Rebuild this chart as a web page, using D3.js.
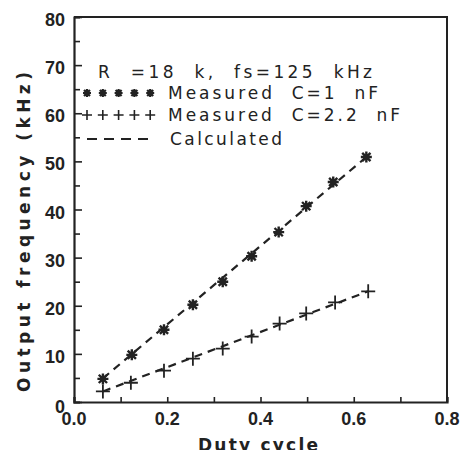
<!DOCTYPE html>
<html>
<head>
<meta charset="utf-8">
<script src="https://d3js.org/d3.v7.min.js"></script>
<style>
  html, body { margin: 0; padding: 0; background: #fff; }
  svg { display: block; }
  text { font-family: "Liberation Sans", Arial, sans-serif; fill: #222; }
  .wide { font-family: "DejaVu Sans", "Liberation Sans", sans-serif; }
</style>
</head>
<body>
<svg id="chart" width="466" height="450"></svg>
<script>
// Measured output frequency vs duty cycle (R = 18 k, fs = 125 kHz)
const dutyC1 = [0.062, 0.124, 0.193, 0.255, 0.319, 0.381, 0.439, 0.498, 0.556, 0.627];
const freqC1 = [4.8, 9.8, 15.0, 20.2, 25.0, 30.3, 35.3, 40.7, 45.7, 50.9];

const dutyC22 = [0.062, 0.122, 0.193, 0.255, 0.319, 0.381, 0.441, 0.498, 0.560, 0.631];
const freqC22 = [2.2, 4.0, 6.5, 9.0, 11.1, 13.6, 16.3, 18.4, 20.7, 23.0];

// Calculated curves (end points of the straight calculated lines)
const calcDuty = [0.062, 0.627];
const calcC1 = [4.9, 50.9];
const calcDuty22 = [0.062, 0.631];
const calcC22 = [2.2, 23.0];

const xTickLabels = ["0.0", "0.2", "0.4", "0.6", "0.8"];
const yTickLabels = ["0", "10", "20", "30", "40", "50", "60", "70", "80"];

const legendLines = ["R  =18  k,  fs=125  kHz", "Measured  C=1  nF", "Measured  C=2.2  nF", "Calculated"];

const svg = d3.select("#chart");
const ink = "#222";

const x = d3.scaleLinear().domain([0, 0.8]).range([74, 447]);
const y = d3.scaleLinear().domain([0, 80]).range([402, 17]);

// frame: top and right edges
svg.append("path")
  .attr("d", `M${x(0)},${y(80)}H${x(0.8)}V${y(0)}`)
  .attr("fill", "none").attr("stroke", ink).attr("stroke-width", 2);

// x axis with inward ticks every 0.1
const xAxis = d3.axisBottom(x)
  .tickValues(d3.range(0, 0.81, 0.1))
  .tickSize(-5)
  .tickFormat(() => "");
const gx = svg.append("g").attr("transform", `translate(0,${y(0)})`).call(xAxis);
gx.select(".domain").attr("stroke", ink).attr("stroke-width", 2.2);
gx.selectAll(".tick line").attr("stroke", ink).attr("stroke-width", 1.6);

// y axis with inward ticks every 5 (longer at the tens)
const yAxis = d3.axisLeft(y)
  .tickValues(d3.range(0, 81, 5))
  .tickSize(-6)
  .tickFormat(() => "");
const gy = svg.append("g").attr("transform", `translate(${x(0)},0)`).call(yAxis);
gy.select(".domain").attr("stroke", ink).attr("stroke-width", 2.2);
gy.selectAll(".tick line")
  .attr("x2", d => d % 10 === 0 ? 8 : 6)
  .attr("stroke", ink).attr("stroke-width", 1.6);

// tick labels
svg.append("g").selectAll("text").data(xTickLabels).join("text")
  .attr("x", d => x(+d))
  .attr("y", y(0) + 23)
  .attr("text-anchor", "middle")
  .attr("font-size", 18).attr("font-weight", "bold")
  .text(d => d);

svg.append("g").selectAll("text").data(yTickLabels).join("text")
  .attr("x", x(0) - 9)
  .attr("y", d => y(+d) + (+d === 0 ? 11 : 9))
  .attr("text-anchor", "end")
  .attr("font-size", 18).attr("font-weight", "bold")
  .text(d => d);

// axis titles
svg.append("text").attr("class", "wide")
  .attr("transform", `translate(30,392) rotate(-90)`)
  .attr("font-size", 17).attr("font-weight", "bold")
  .attr("textLength", 320).attr("lengthAdjust", "spacing")
  .text("Output frequency (kHz)");

svg.append("text").attr("class", "wide")
  .attr("x", 198).attr("y", 451)
  .attr("font-size", 17).attr("font-weight", "bold")
  .attr("textLength", 120).attr("lengthAdjust", "spacing")
  .text("Duty cycle");

// calculated dashed lines
const line = d3.line().x(d => x(d[0])).y(d => y(d[1]));
svg.append("path")
  .datum(d3.zip(calcDuty, calcC1))
  .attr("d", line)
  .attr("fill", "none").attr("stroke", ink).attr("stroke-width", 2.2)
  .attr("stroke-dasharray", "8,6");
svg.append("path")
  .datum(d3.zip(calcDuty22, calcC22))
  .attr("d", line)
  .attr("fill", "none").attr("stroke", ink).attr("stroke-width", 2.2)
  .attr("stroke-dasharray", "8,6");

// marker shapes
function plusPath(s) {
  return `M${-s},0H${s}M0,${-s}V${s}`;
}
function starPath(s) {
  const a = s * 0.75;
  return `M${-s},0H${s}M0,${-s}V${s}M${-a},${-a}L${a},${a}M${-a},${a}L${a},${-a}`;
}

svg.append("g").selectAll("path").data(d3.zip(dutyC1, freqC1)).join("path")
  .attr("transform", d => `translate(${x(d[0])},${y(d[1])})`)
  .attr("d", starPath(5.5))
  .attr("fill", "none").attr("stroke", ink).attr("stroke-width", 2.4);

svg.append("g").selectAll("path").data(d3.zip(dutyC22, freqC22)).join("path")
  .attr("transform", d => `translate(${x(d[0])},${y(d[1])})`)
  .attr("d", plusPath(7))
  .attr("fill", "none").attr("stroke", ink).attr("stroke-width", 1.8);

// legend block
const legend = svg.append("g");
const rowY = [72, 93, 115, 139];
const textX = [98, 168, 168, 170];
const textW = [274, 210, 232, 112];
legend.selectAll("text").data(legendLines).join("text")
  .attr("class", "wide")
  .attr("x", (d, i) => textX[i])
  .attr("y", (d, i) => rowY[i] + 6)
  .attr("font-size", 17)
  .attr("textLength", (d, i) => textW[i])
  .attr("lengthAdjust", "spacing")
  .attr("xml:space", "preserve")
  .style("white-space", "pre")
  .text(d => d);

const legendMarkX = d3.range(5).map(i => 87 + i * 15.8);
legend.append("g").selectAll("path").data(legendMarkX).join("path")
  .attr("transform", d => `translate(${d},${rowY[1]})`)
  .attr("d", starPath(4))
  .attr("fill", "none").attr("stroke", ink).attr("stroke-width", 2.2);
legend.append("g").selectAll("path").data(legendMarkX).join("path")
  .attr("transform", d => `translate(${d},${rowY[2]})`)
  .attr("d", plusPath(5))
  .attr("fill", "none").attr("stroke", ink).attr("stroke-width", 1.6);
legend.append("line")
  .attr("x1", 87).attr("x2", 148)
  .attr("y1", rowY[3]).attr("y2", rowY[3])
  .attr("stroke", ink).attr("stroke-width", 1.8)
  .attr("stroke-dasharray", "10,7");
</script>
</body>
</html>
